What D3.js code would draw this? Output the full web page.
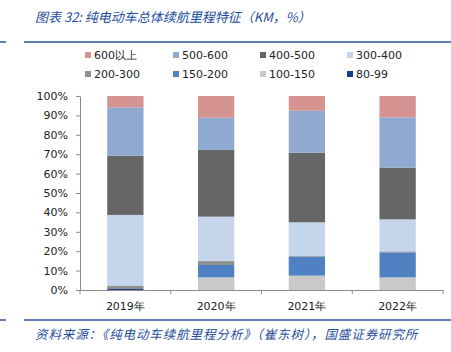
<!DOCTYPE html>
<html>
<head>
<meta charset="utf-8">
<script src="https://d3js.org/d3.v7.min.js"></script>
<style>
  body { margin: 0; background: #fff; }
  svg text { font-family: "DejaVu Sans", sans-serif; }
  .cn { font-family: "Noto Sans CJK SC", sans-serif; font-style: italic; fill: #1f4e9c; }
  .axis path, .axis line { stroke: #8c8c8c; }
</style>
</head>
<body>
<div id="chart"></div>
<script>
// years and series, stacked bottom to top
const years = ["2019年", "2020年", "2021年", "2022年"];
const seriesNames = ["80-99", "100-150", "150-200", "200-300", "300-400", "400-500", "500-600", "600以上"];
const s80_99   = [0.5, 0,    0,    0];
const s100_150 = [0,   6.5,  7.4,  6.5];
const s150_200 = [0,   6.4,  9.8,  12.9];
const s200_300 = [1.8, 2.0,  0.5,  0.5];
const s300_400 = [36.4, 22.9, 17.2, 16.5];
const s400_500 = [30.5, 34.4, 35.9, 26.7];
const s500_600 = [25.0, 16.6, 21.6, 25.9];
const s600     = [5.8, 11.2,  7.6,  11.0];
const yTicks = [0, 10, 20, 30, 40, 50, 60, 70, 80, 90, 100];
const legendOrder = ["600以上", "500-600", "400-500", "300-400", "200-300", "150-200", "100-150", "80-99"];

const colors = {
  "80-99": "#0d3f8f", "100-150": "#c9c9c9", "150-200": "#4f81c3", "200-300": "#8f8f8f",
  "300-400": "#c4d5ec", "400-500": "#666666", "500-600": "#90a9d0", "600以上": "#d59392"
};

const cols = [s80_99, s100_150, s150_200, s200_300, s300_400, s400_500, s500_600, s600];
const table = years.map((y, i) => {
  const row = { year: y };
  seriesNames.forEach((n, k) => row[n] = cols[k][i]);
  return row;
});

const W = 451, H = 352;
const svg = d3.select("#chart").append("svg").attr("width", W).attr("height", H);

// header / footer
svg.append("text").attr("class", "cn").attr("x", 35).attr("y", 22)
  .attr("font-size", 13)
  .text("图表 32: 纯电动车总体续航里程特征（KM，%）");
[42, 320].forEach(yy => {
  svg.append("line").attr("x1", 0).attr("x2", 6).attr("y1", yy).attr("y2", yy)
    .attr("stroke", "#2f5597").attr("stroke-width", 1.5);
  svg.append("line").attr("x1", 24).attr("x2", W).attr("y1", yy).attr("y2", yy)
    .attr("stroke", "#2f5597").attr("stroke-width", 1.5);
});
svg.append("text").attr("class", "cn").attr("x", 35).attr("y", 339)
  .attr("font-size", 12.5).attr("letter-spacing", 0.9)
  .text("资料来源：《纯电动车续航里程分析》（崔东树），国盛证券研究所");

// legend
const legend = svg.append("g");
legendOrder.forEach((n, i) => {
  const gx = [85, 173, 260, 347][i % 4], gy = [55, 74][Math.floor(i / 4)];
  legend.append("rect").attr("x", gx).attr("y", gy - 3).attr("width", 6).attr("height", 6)
    .attr("fill", colors[n]);
  legend.append("text").attr("x", gx + 9).attr("y", gy + 4).attr("font-size", 11)
    .attr("fill", "#222").text(n);
});

// plot
const m = { left: 80, right: 443, top: 96, bottom: 290 };
const x = d3.scaleBand().domain(years).range([m.left, m.right]).paddingInner(0.6).paddingOuter(0.3);
const y = d3.scaleLinear().domain([0, 100]).range([m.bottom, m.top]);

const stack = d3.stack().keys(seriesNames)(table);
svg.append("g").selectAll("g").data(stack).join("g")
  .attr("fill", d => colors[d.key])
  .selectAll("rect").data(d => d).join("rect")
  .attr("x", d => x(d.data.year))
  .attr("width", x.bandwidth())
  .attr("y", d => y(d[1]))
  .attr("height", d => y(d[0]) - y(d[1]));

const yAxis = svg.append("g").attr("class", "axis")
  .attr("transform", `translate(${m.left},0)`)
  .call(d3.axisLeft(y).tickValues(yTicks).tickFormat(d => d + "%").tickSize(4).tickPadding(8).tickSizeOuter(0));
yAxis.selectAll("text").attr("font-size", 11).attr("fill", "#222").attr("font-family", "DejaVu Sans");

const xb = d3.scaleBand().domain(years).range([m.left, m.right]);
const xAxis = svg.append("g").attr("class", "axis")
  .attr("transform", `translate(0,${m.bottom})`)
  .call(d3.axisBottom(xb).tickSize(0).tickPadding(12));
xAxis.selectAll("text").attr("font-size", 11).attr("fill", "#222")
  .attr("font-family", "DejaVu Sans, Noto Sans CJK SC");
// boundary ticks between categories
xAxis.selectAll(".bound").data(years.concat([null])).join("line")
  .attr("class", "bound")
  .attr("x1", (d, i) => m.left + i * xb.step()).attr("x2", (d, i) => m.left + i * xb.step())
  .attr("y1", 0).attr("y2", 4).attr("stroke", "#8c8c8c");
</script>
</body>
</html>
